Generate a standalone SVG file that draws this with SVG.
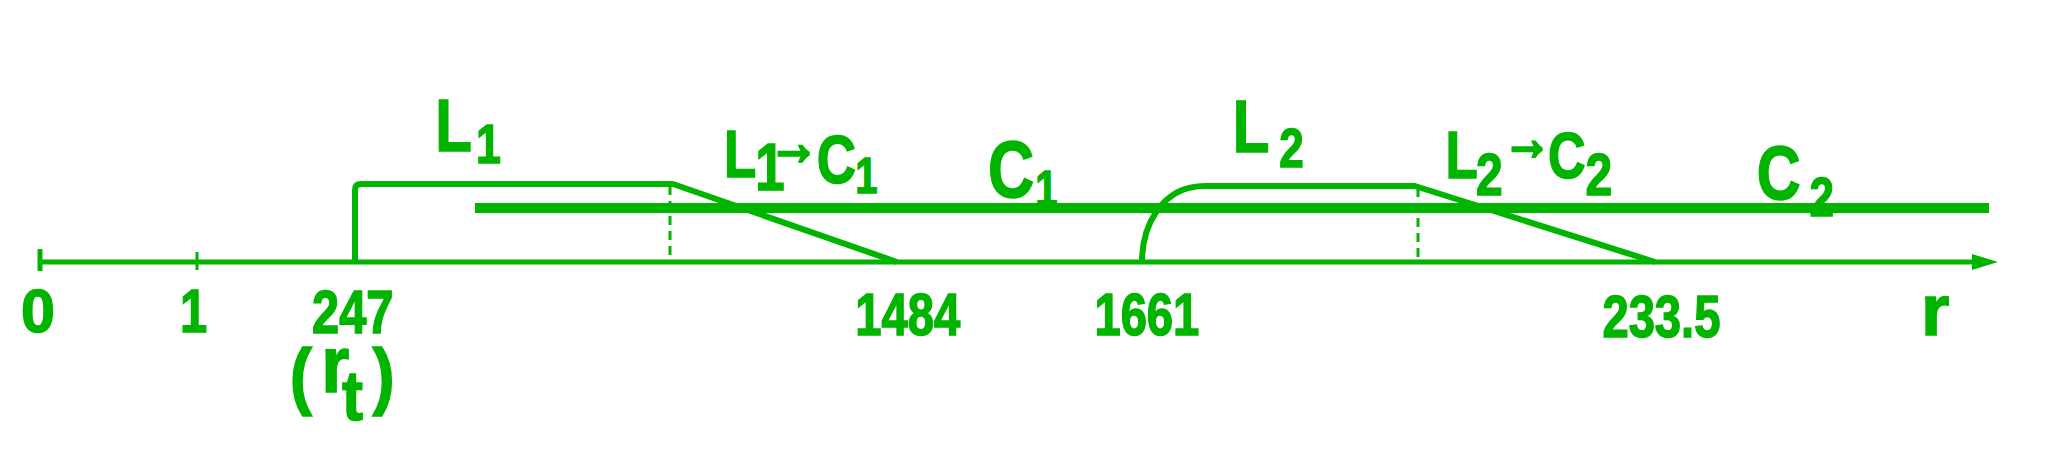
<svg xmlns="http://www.w3.org/2000/svg" width="2048" height="454" viewBox="0 0 2048 454">
<style>
.ln{fill:none;stroke:#00b400;stroke-linecap:butt;stroke-linejoin:round}
.t{fill:#00b400;stroke:#00b400;stroke-width:1.5;font-family:"Liberation Sans",Arial,sans-serif;font-weight:bold}
.ar{stroke-width:3.5}
</style>
<defs>
<marker id="ah" viewBox="0 0 26 18" refX="4" refY="9" markerWidth="26" markerHeight="18" markerUnits="userSpaceOnUse" orient="auto">
<path d="M0,1 L26,9 L0,17 z" fill="#00b400"/>
</marker>
</defs>
<rect width="2048" height="454" fill="#ffffff"/>
<g id="connectors">
<line id="axis" class="ln" x1="40" y1="262" x2="1976" y2="262" stroke-width="5" marker-end="url(#ah)"/>
<line class="ln" x1="40" y1="249" x2="40" y2="271" stroke-width="5"/>
<line class="ln" x1="197" y1="252" x2="197" y2="270" stroke-width="3"/>
<line id="C-line" class="ln" x1="475" y1="208" x2="1989" y2="208" stroke-width="10"/>
<path id="L1-path" class="ln" d="M355 262 V190 Q355 184 361 184 H673 L897 262" stroke-width="6"/>
<path id="L2-path" class="ln" d="M1142 262 C1142 228 1160 186 1205 186 H1415 L1655 262" stroke-width="6"/>
<line class="ln" x1="670" y1="186" x2="670" y2="262" stroke-width="3" stroke-dasharray="9 6"/>
<line class="ln" x1="1418" y1="188" x2="1418" y2="262" stroke-width="3" stroke-dasharray="9 6"/>
</g>
<g id="label-L1"><text class="t" transform="scale(0.8,1)"><tspan x="544" y="151" font-size="75">L</tspan><tspan x="595" y="163" font-size="56">1</tspan></text></g>
<g id="label-L1C1"><text class="t" transform="scale(0.8,1)"><tspan x="905" y="177" font-size="66">L</tspan><tspan x="944" y="190" font-size="66">1</tspan><tspan class="ar" x="961" y="164" font-size="62">→</tspan><tspan x="1021" y="183" font-size="68">C</tspan><tspan x="1069" y="193" font-size="50">1</tspan></text></g>
<g id="label-C1"><text class="t" transform="scale(0.8,1)"><tspan x="1235" y="197" font-size="80">C</tspan><tspan x="1294" y="206" font-size="50">1</tspan></text></g>
<g id="label-L2"><text class="t" transform="scale(0.8,1)"><tspan x="1541" y="152" font-size="75">L</tspan><tspan x="1599" y="167" font-size="55">2</tspan></text></g>
<g id="label-L2C2"><text class="t" transform="scale(0.8,1)"><tspan x="1807" y="178" font-size="66">L</tspan><tspan x="1845" y="195" font-size="60">2</tspan><tspan class="ar" x="1879" y="159" font-size="60">→</tspan><tspan x="1935" y="178" font-size="65">C</tspan><tspan x="1982" y="195" font-size="60">2</tspan></text></g>
<g id="label-C2"><text class="t" transform="scale(0.8,1)"><tspan x="2196" y="199" font-size="76">C</tspan><tspan x="2262" y="216" font-size="55">2</tspan></text></g>
<g id="ticks">
<text class="t" x="21" y="332" font-size="61">0</text>
<text class="t" transform="scale(0.8,1)" x="225" y="332" font-size="61">1</text>
<text class="t" transform="scale(0.8,1)" x="390" y="333" font-size="61">247</text>
<text class="t" transform="scale(0.9,1)"><tspan x="322" y="401" font-size="74">(</tspan><tspan x="357" y="392" font-size="80">r</tspan><tspan x="380" y="420" font-size="70">t</tspan><tspan x="414" y="401" font-size="74">)</tspan></text>
<text class="t" transform="scale(0.8,1)" x="1069" y="335" font-size="59">1484</text>
<text class="t" transform="scale(0.8,1)" x="1368" y="335" font-size="59">1661</text>
<text class="t" transform="scale(0.8,1)" x="2003" y="337" font-size="59">233.5</text>
<text class="t" x="1921" y="335" font-size="73">r</text>
</g>
</svg>
